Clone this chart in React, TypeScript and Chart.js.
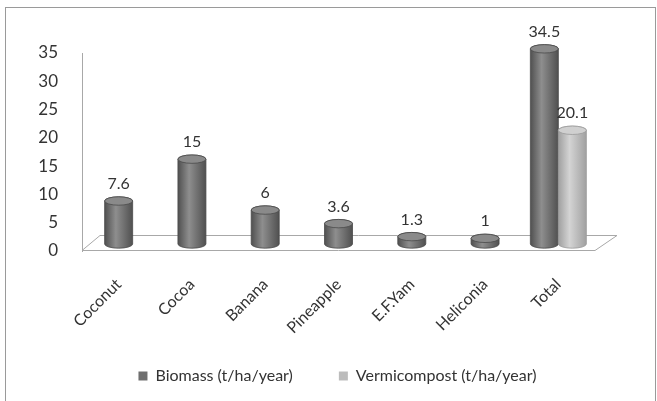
import React, { useEffect, useRef } from 'react';
import { Chart, registerables } from 'chart.js';

Chart.register(...registerables);

const categories = ['Coconut', 'Cocoa', 'Banana', 'Pineapple', 'E.F.Yam', 'Heliconia', 'Total'];
const biomass = [7.6, 15, 6, 3.6, 1.3, 1, 34.5];
const vermicompost = [null, null, null, null, null, null, 20.1];
const seriesNames = ['Biomass (t/ha/year)', 'Vermicompost (t/ha/year)'];
const yMin = 0;
const yMax = 35;
const yStep = 5;

const FONT = 'Lato, "Open Sans", sans-serif';
const TEXT = '#333333';
const DEPTH_X = 18;
const DEPTH_Y = 15;
const LIFT = 7;
const LEGEND_SHIFT = 29;

const palette = [
  { solid: '#6f6f6f', edge: '#505050', light: '#8e8e8e', top: '#8a8a8a', line: '#4a4a4a' },
  { solid: '#bcbcbc', edge: '#a0a0a0', light: '#d4d4d4', top: '#d0d0d0', line: '#9a9a9a' },
];

const layoutPlugin = {
  id: 'layoutTweaks',
  afterLayout(chart: any) {
    const sx = chart.scales.x;
    if (sx) {
      sx._computeLabelArea = () => ({ top: sx.top, left: 0, bottom: chart.height, right: chart.width });
    }
    const lg = chart.legend;
    if (lg) {
      lg.left += LEGEND_SHIFT;
      lg.right += LEGEND_SHIFT;
    }
  },
};

const cylinderPlugin = {
  id: 'cylinder3d',
  beforeDatasetsDraw(chart: any) {
    const { ctx, chartArea } = chart;
    const { left, right, bottom } = chartArea;
    ctx.save();
    ctx.strokeStyle = '#a8a8a8';
    ctx.lineWidth = 1;
    ctx.beginPath();
    ctx.moveTo(left, bottom - 0.5);
    ctx.lineTo(right, bottom - 0.5);
    ctx.lineTo(right + DEPTH_X + 4, bottom - DEPTH_Y - 0.5);
    ctx.lineTo(left + DEPTH_X, bottom - DEPTH_Y - 0.5);
    ctx.closePath();
    ctx.stroke();
    ctx.restore();
  },
  beforeDatasetDraw() {
    return false;
  },
  afterDatasetsDraw(chart: any) {
    const ctx = chart.ctx;
    ctx.save();
    chart.data.datasets.forEach((ds: any, di: number) => {
      const meta = chart.getDatasetMeta(di);
      if (meta.hidden) return;
      const c = palette[di];
      meta.data.forEach((el: any, i: number) => {
        const v = ds.data[i];
        if (v == null) return;
        const { x, y, base, width } = el.getProps(['x', 'y', 'base', 'width'], true);
        const cx = x;
        const top = y - LIFT;
        const bot = base - LIFT;
        const rx = width / 2;
        const ry = Math.max(3, rx * 0.3);
        const g = ctx.createLinearGradient(cx - rx, 0, cx + rx, 0);
        g.addColorStop(0, c.edge);
        g.addColorStop(0.4, c.light);
        g.addColorStop(1, c.edge);
        ctx.fillStyle = g;
        ctx.strokeStyle = c.line;
        ctx.lineWidth = 0.8;
        ctx.beginPath();
        ctx.moveTo(cx - rx, top);
        ctx.lineTo(cx - rx, bot);
        ctx.ellipse(cx, bot, rx, ry, 0, Math.PI, 0, true);
        ctx.lineTo(cx + rx, top);
        ctx.ellipse(cx, top, rx, ry, 0, 0, Math.PI, true);
        ctx.closePath();
        ctx.fill();
        ctx.stroke();
        ctx.beginPath();
        ctx.ellipse(cx, top, rx, ry, 0, 0, Math.PI * 2);
        ctx.fillStyle = c.top;
        ctx.fill();
        ctx.stroke();
        ctx.fillStyle = TEXT;
        ctx.font = `16px ${FONT}`;
        ctx.textAlign = 'center';
        ctx.textBaseline = 'bottom';
        ctx.fillText(String(v), cx, top - ry - 5);
      });
    });
    ctx.restore();
  },
};

export default function App() {
  const canvasRef = useRef<HTMLCanvasElement | null>(null);

  useEffect(() => {
    if (!canvasRef.current) return;
    const chart = new Chart(canvasRef.current, {
      type: 'bar',
      data: {
        labels: categories,
        datasets: [
          {
            label: seriesNames[0],
            data: biomass,
            backgroundColor: palette[0].solid,
            borderWidth: 0,
            barThickness: 28,
            skipNull: true,
          } as any,
          {
            label: seriesNames[1],
            data: vermicompost,
            backgroundColor: palette[1].solid,
            borderWidth: 0,
            barThickness: 28,
            skipNull: true,
          } as any,
        ],
      },
      options: {
        animation: false,
        responsive: false,
        maintainAspectRatio: false,
        layout: { padding: { left: 22, right: 62, top: 53, bottom: 7 } },
        plugins: {
          legend: {
            position: 'bottom',
            labels: {
              boxWidth: 9,
              boxHeight: 9,
              padding: 46,
              color: TEXT,
              font: { family: FONT, size: 16 },
            },
          },
          tooltip: { enabled: false },
        },
        scales: {
          x: {
            grid: { display: false, drawTicks: false },
            border: { display: false },
            ticks: {
              minRotation: 45,
              maxRotation: 45,
              padding: 24,
              color: TEXT,
              font: { family: FONT, size: 16 },
            },
            afterFit(axis: any) {
              axis.height = 71;
            },
          },
          y: {
            min: yMin,
            max: yMax,
            grid: { display: false, drawTicks: false },
            border: { display: true, color: '#a8a8a8' },
            ticks: {
              stepSize: yStep,
              padding: 24,
              color: TEXT,
              font: { family: FONT, size: 17 },
            },
            afterFit(axis: any) {
              axis.width = 60;
            },
          },
        },
      },
      plugins: [layoutPlugin, cylinderPlugin],
    });
    return () => chart.destroy();
  }, []);

  return (
    <div style={{ position: 'fixed', left: 0, top: 0, width: 657, height: 401, background: '#ffffff', overflow: 'hidden' }}>
      <div
        style={{
          position: 'absolute',
          left: 5,
          top: 7,
          width: 651,
          height: 420,
          border: '1px solid #9a9a9a',
          boxSizing: 'border-box',
        }}
      />
      <canvas ref={canvasRef} width={657} height={401} style={{ position: 'absolute', left: 0, top: 0 }} />
    </div>
  );
}
